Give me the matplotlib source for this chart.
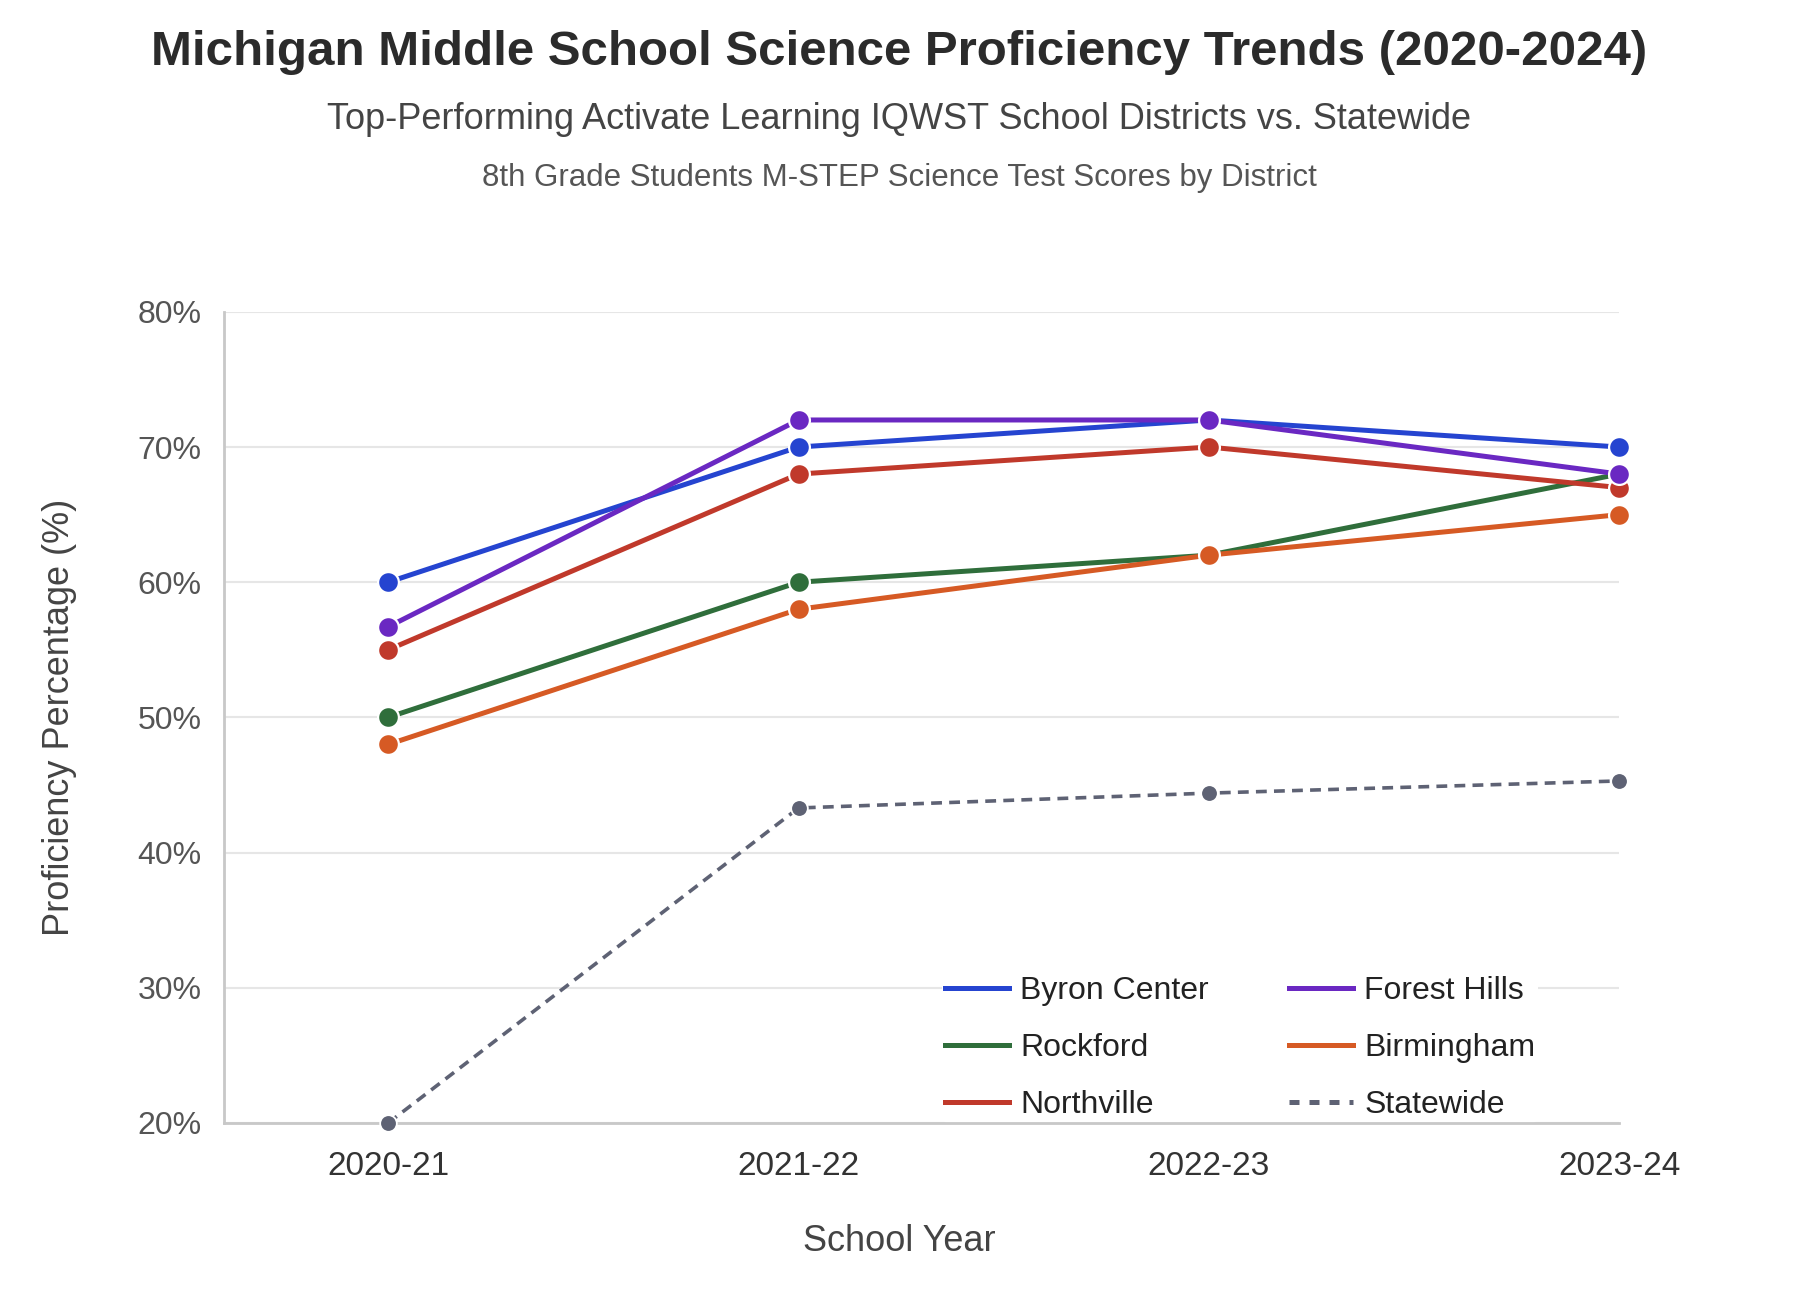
import matplotlib.pyplot as plt
from matplotlib.lines import Line2D

plt.rcParams['font.family'] = ['Liberation Sans', 'DejaVu Sans']

years = ['2020-21', '2021-22', '2022-23', '2023-24']
byron_center = [60, 70, 72, 70]
rockford = [50, 60, 62, 68]
northville = [55, 68, 70, 67]
forest_hills = [56.7, 72, 72, 68]
birmingham = [48, 58, 62, 65]
statewide = [20, 43.3, 44.4, 45.3]

districts = [
    ('Byron Center', byron_center, '#2544d0'),
    ('Rockford', rockford, '#2f6e3b'),
    ('Northville', northville, '#c0392b'),
    ('Forest Hills', forest_hills, '#6a28c2'),
    ('Birmingham', birmingham, '#d65a24'),
]
state_color = '#5e6274'

fig = plt.figure(figsize=(17.98, 13.02), dpi=100)
ax = fig.add_axes([0.1246, 0.1375, 0.776, 0.623])

x = range(len(years))
handles = []
for name, vals, color in districts:
    ax.plot(x, vals, color=color, linewidth=3.6, marker='o', markersize=15,
            markeredgecolor='white', markeredgewidth=1.6,
            clip_on=False, zorder=3)
    handles.append(Line2D([], [], color=color, linewidth=3.6, label=name))

ax.plot(x, statewide, color=state_color, linewidth=2.6, linestyle=(0, (3, 2)),
        marker='o', markersize=12, markeredgecolor='white', markeredgewidth=1.3,
        clip_on=False, zorder=7)
handles.append(Line2D([], [], color=state_color, linewidth=3.6,
                      linestyle=(0, (2, 2)), label='Statewide'))

ax.set_xlim(-0.4, 3)
ax.set_ylim(20, 80)
ax.set_xticks(list(x))
ax.set_xticklabels(years)
ax.set_yticks(range(20, 81, 10))
ax.set_yticklabels([f'{v}%' for v in range(20, 81, 10)])
ax.tick_params(axis='both', length=0, colors='#555555')
ax.tick_params(axis='x', pad=20, labelsize=24, colors='#333333')
ax.tick_params(axis='y', pad=16, labelsize=23)

ax.grid(axis='y', color='#e6e6e6', linewidth=1.5, zorder=0)
ax.set_axisbelow(True)
for side in ['top', 'right']:
    ax.spines[side].set_visible(False)
for side in ['left', 'bottom']:
    ax.spines[side].set_color('#c8c8c8')
    ax.spines[side].set_linewidth(2)
    ax.spines[side].set_zorder(6)

ax.set_xlabel('School Year', fontsize=26, color='#444444')
ax.xaxis.set_label_coords(0.484, -0.124)
ax.set_ylabel('Proficiency Percentage (%)', fontsize=26, color='#444444', labelpad=44)

leg = ax.legend(handles=handles, loc='lower right', ncol=2, fontsize=23,
                frameon=True, handlelength=2.0, columnspacing=2.5,
                labelspacing=0.84, borderaxespad=0.0, handletextpad=0.35,
                borderpad=0.1, bbox_to_anchor=(0.942, 0.0))
leg.get_frame().set_facecolor('white')
leg.get_frame().set_edgecolor('none')
leg.get_frame().set_alpha(1)
for t in leg.get_texts():
    t.set_color('#222222')

fig.text(0.5, 0.96, 'Michigan Middle School Science Proficiency Trends (2020-2024)',
         ha='center', va='center', fontsize=35.5, fontweight='bold', color='#2b2b2b')
fig.text(0.5, 0.908, 'Top-Performing Activate Learning IQWST School Districts vs. Statewide',
         ha='center', va='center', fontsize=26, color='#444444')
fig.text(0.5, 0.863, '8th Grade Students M-STEP Science Test Scores by District',
         ha='center', va='center', fontsize=22.5, color='#555555')

fig.savefig('out.png', dpi=100, facecolor='white')
